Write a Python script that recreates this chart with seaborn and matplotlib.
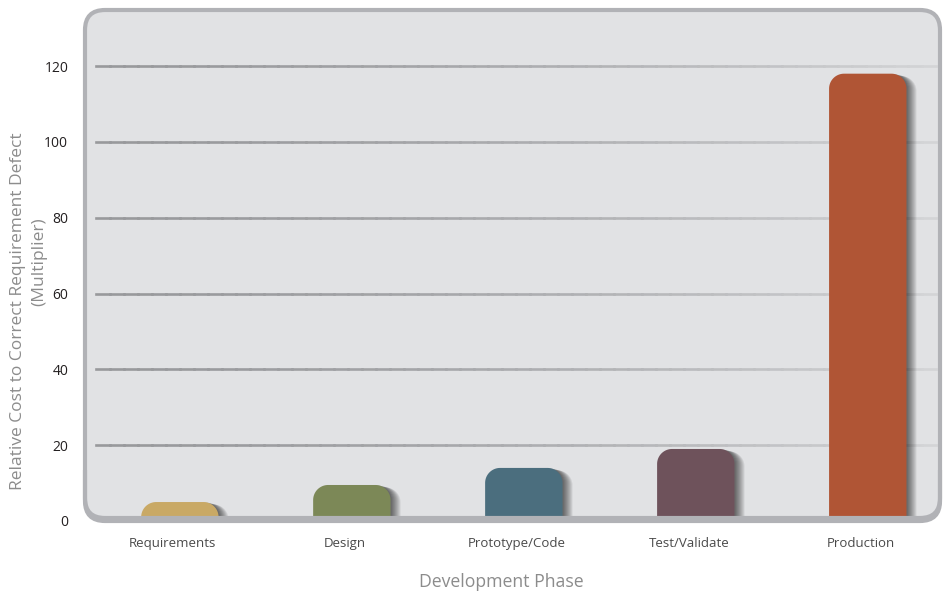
import numpy as np
import pandas as pd
import matplotlib
matplotlib.use("Agg")
import matplotlib.pyplot as plt
import seaborn as sns
from matplotlib.patches import FancyBboxPatch, Rectangle, PathPatch
from matplotlib.path import Path
from matplotlib.collections import LineCollection
from matplotlib import patheffects as pe
from matplotlib.transforms import ScaledTranslation
from matplotlib.colors import to_rgb

# ---- data ----
phases = ["Requirements", "Design", "Prototype/Code", "Test/Validate", "Production"]
values = [5, 9.5, 14, 19, 118]
colors = ["#c9a965", "#7c8857", "#4b6e7e", "#6e525b", "#b05535"]
yticks = [0, 20, 40, 60, 80, 100, 120]
xlabel = "Development Phase"
ylabel_1 = "Relative Cost to Correct Requirement Defect"
ylabel_2 = "(Multiplier)"

sns.set_theme(style="white")
plt.rcParams["font.family"] = ["Open Sans", "DejaVu Sans"]

W, H, DPI = 943, 593, 100
fig = plt.figure(figsize=(W / DPI, H / DPI), dpi=DPI)
fig.patch.set_facecolor("white")

ax_l, ax_r, ax_t, ax_b = 87, 940, 10, 521
ax = fig.add_axes([ax_l / W, (H - ax_b) / H, (ax_r - ax_l) / W, (ax_b - ax_t) / H])
ax.set_facecolor("none")

df = pd.DataFrame({"phase": phases, "value": values})
sns.barplot(data=df, x="phase", y="value", hue="phase", palette=colors,
            width=0.45, legend=False, ax=ax, saturation=1)

xlim = (-0.54, 4.42)
ylim = (0, 134.8)
ax.set_xlim(*xlim)
ax.set_ylim(*ylim)

px_per_x = (ax_r - ax_l) / (xlim[1] - xlim[0])
px_per_y = (ax_b - ax_t) / (ylim[1] - ylim[0])

# frame background (rounded panel)
frame_kw = dict(boxstyle="round,pad=0,rounding_size=0.2", transform=fig.dpi_scale_trans)
fx0, fx1, fy_top, fy_bot = 85, 940, 10, 518
bw, bh = (fx1 - fx0) / DPI, (fy_bot - fy_top) / DPI
fill = FancyBboxPatch((fx0 / DPI, (H - fy_bot) / DPI), bw, bh,
                      facecolor="#e1e2e4", edgecolor="none", zorder=-1, **frame_kw)
fig.add_artist(fill)
bcol = "#b1b2b6"
border = FancyBboxPatch((fx0 / DPI, (H - fy_bot) / DPI), bw, bh,
                        facecolor="none", edgecolor=bcol, linewidth=3.0, zorder=3, **frame_kw)
fig.add_artist(border)
# thicker bottom edge: a copy shifted down, visible only near the bottom
border2 = FancyBboxPatch((fx0 / DPI, (H - fy_bot - 3) / DPI), bw, bh,
                         facecolor="none", edgecolor=bcol, linewidth=3.0, zorder=3, **frame_kw)
fig.add_artist(border2)
clip = Rectangle((0, 0), W / DPI, (H - 470) / DPI, transform=fig.dpi_scale_trans)
border2.set_clip_path(clip)

# gradient gridlines
c0 = np.array(to_rgb("#98999c"))
c1 = np.array(to_rgb("#d3d4d6"))
gx0 = (96 - ax_l) / px_per_x + xlim[0]
gx1 = (936 - ax_l) / px_per_x + xlim[0]
nseg = 60
xs = np.linspace(gx0, gx1, nseg + 1)
for yv in yticks[1:]:
    segs = [[(xs[i], yv), (xs[i + 1], yv)] for i in range(nseg)]
    t = (np.linspace(0, 1, nseg)[:, None]) ** 1.6
    cols = c0 * (1 - t) + c1 * t
    lc = LineCollection(segs, colors=cols, linewidths=1.9, zorder=0.5,
                        capstyle="projecting")
    ax.add_collection(lc)

# rounded-top bars with soft shadows, built from seaborn's bars
r_px = 15
rx = r_px / px_per_x
ry = r_px / px_per_y
shadows = [pe.SimplePatchShadow(offset=(0.8 * k, -0.2 * k), shadow_rgbFace="black", alpha=0.08)
           for k in range(1, 10)]
theta_l = np.linspace(np.pi, np.pi / 2, 24)
theta_r = np.linspace(np.pi / 2, 0, 24)
for bar in list(ax.patches):
    x, w, h = bar.get_x(), bar.get_width(), bar.get_height()
    fc = bar.get_facecolor()
    bar.set_visible(False)
    y0 = -2.0
    ryy = min(ry, h - y0)
    verts = [(x, y0)]
    verts += list(zip(x + rx + rx * np.cos(theta_l), h - ryy + ryy * np.sin(theta_l)))
    verts += list(zip(x + w - rx + rx * np.cos(theta_r), h - ryy + ryy * np.sin(theta_r)))
    verts += [(x + w, y0), (x, y0)]
    codes = [Path.MOVETO] + [Path.LINETO] * (len(verts) - 2) + [Path.CLOSEPOLY]
    pp = PathPatch(Path(verts, codes), facecolor=fc, edgecolor="none", zorder=2,
                   path_effects=shadows + [pe.Normal()])
    ax.add_patch(pp)

# ticks & labels
for s in ax.spines.values():
    s.set_visible(False)
ax.set_yticks(yticks)
ax.set_yticklabels([str(v) for v in yticks])
ax.tick_params(axis="y", length=0, pad=13.5, labelsize=10, labelcolor="#231f20")
ax.tick_params(axis="x", length=0, pad=11.5, labelsize=9.5, labelcolor="#4a4a4a")
ax.set_xticks(range(len(phases)))
ax.set_xticklabels(phases)
off = ScaledTranslation(-7 / DPI, 0, fig.dpi_scale_trans)
for lab in ax.get_xticklabels():
    lab.set_transform(lab.get_transform() + off)
ax.set_xlabel("")
ax.set_ylabel("")
ax.grid(False)

fig.text(501 / W, 1 - 582 / H, xlabel, ha="center", va="center", fontsize=12.7, color="#8c8c8c")
fig.text(18 / W, 1 - 311 / H, ylabel_1, ha="center", va="center", rotation=90, fontsize=12.5,
         color="#8c8c8c")
fig.text(39 / W, 1 - 262 / H, ylabel_2, ha="center", va="center", rotation=90, fontsize=12.5,
         color="#8c8c8c")

fig.savefig("out.png", dpi=DPI)
